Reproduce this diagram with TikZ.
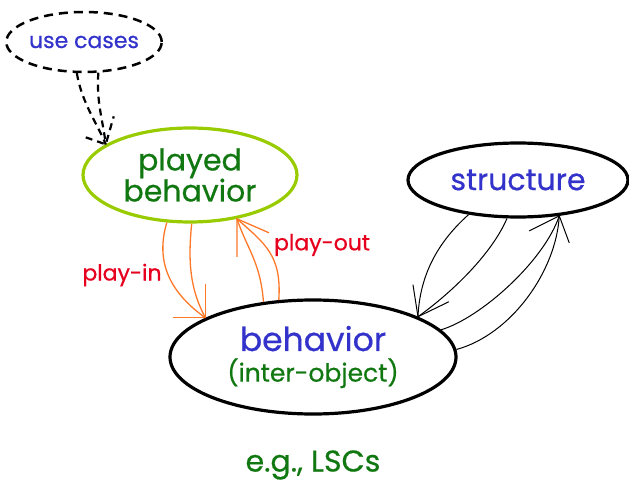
\documentclass[tikz,border=0pt]{standalone}
\usepackage{fontspec}
\setmainfont{Poppins}[FakeBold=0.6]
\usetikzlibrary{shapes.geometric}
\definecolor{txtblue}{RGB}{51,51,204}
\definecolor{txtgreen}{RGB}{17,120,17}
\definecolor{txtred}{RGB}{230,0,30}
\definecolor{arrorange}{RGB}{255,120,40}
\definecolor{limeborder}{RGB}{153,204,0}
\begin{document}
\begin{tikzpicture}[x=1pt,y=1pt,
  blob/.style={ellipse, draw, line width=3.2pt, inner sep=0pt, align=center},
  dashblob/.style={ellipse, draw, line width=2.5pt, dash pattern=on 9pt off 6pt, inner sep=0pt},
  orangeline/.style={draw=arrorange, line width=1.3pt},
  thinline/.style={draw=black, line width=1pt},
  dashline/.style={draw=black, line width=2.2pt, dash pattern=on 7pt off 5pt},
  lbl/.style={text=txtred, font=\fontsize{22}{26}\selectfont, inner sep=0pt}]
\useasboundingbox (0,0) rectangle (629,483);

% the four bubbles
\node[dashblob, minimum width=142pt, minimum height=60pt, text=txtblue,
      font=\fontsize{22}{26}\selectfont] (uc) at (84,441) {use cases};
\node[blob, draw=limeborder, minimum width=214pt, minimum height=94pt, text=txtgreen,
      font=\fontsize{30}{31}\selectfont] (pb) at (190,308) {played\\behavior};
\node[blob, minimum width=220pt, minimum height=74pt, text=txtblue,
      font=\fontsize{30}{34}\selectfont] (st) at (518,303) {structure};
\node[blob, minimum width=286pt, minimum height=114pt] (b) at (313,126)
  {{\fontsize{33}{38}\selectfont\color{txtblue}behavior}\\[6pt]
   {\fontsize{25}{30}\selectfont\color{txtgreen}(inter-object)}};

% labels
\node[lbl] (pin) at (122,208) {play-in};
\node[lbl] (pout) at (322,238) {play-out};
\node[text=txtgreen, font=\fontsize{30}{34}\selectfont] (eg) at (313,18) {e.g., LSCs};

% use cases -> played behavior
\draw[dashline] (uc.-103) .. controls +(5,-30) and +(-8,20) .. (pb.160);
\draw[dashline] (uc.-65) .. controls +(-2,-30) and +(-3,25) .. (pb.160);
\draw[dashline] ([shift={(-20,7)}]pb.160) -- (pb.160) -- ([shift={(8,28)}]pb.160);

% play-in
\draw[orangeline] (pb.-116) .. controls +(-12,-40) and +(-35,25) .. (b.160);
\draw[orangeline] (pb.-88) .. controls +(-4,-40) and +(-15,28) .. (b.160);
\draw[orangeline] ([xshift=-32pt]b.160) -- (b.160) -- ([yshift=34pt]b.160);

% play-out
\draw[orangeline] (b.132) .. controls +(-3,40) and +(10,-30) .. (pb.-43);
\draw[orangeline] (b.121) .. controls +(3,45) and +(28,-25) .. (pb.-43);
\draw[orangeline] ([yshift=-38pt]pb.-43) -- (pb.-43) -- ([shift={(32,-14)}]pb.-43);

% structure -> behavior
\draw[thinline] (st.-145) .. controls +(-28,-25) and +(2,45) .. (b.21);
\draw[thinline] (st.-106) .. controls +(-15,-35) and +(35,25) .. (b.21);
\draw[thinline] ([shift={(-5,32)}]b.21) -- (b.21) -- ([shift={(31,15)}]b.21);

% behavior -> structure
\draw[thinline] (b.12) .. controls +(40,12) and +(-15,-45) .. (st.-41);
\draw[thinline] (b.3) .. controls +(55,15) and +(-3,-55) .. (st.-41);
\draw[thinline] ([shift={(-30,-15)}]st.-41) -- (st.-41) -- ([shift={(10,-27)}]st.-41);
\end{tikzpicture}
\end{document}
